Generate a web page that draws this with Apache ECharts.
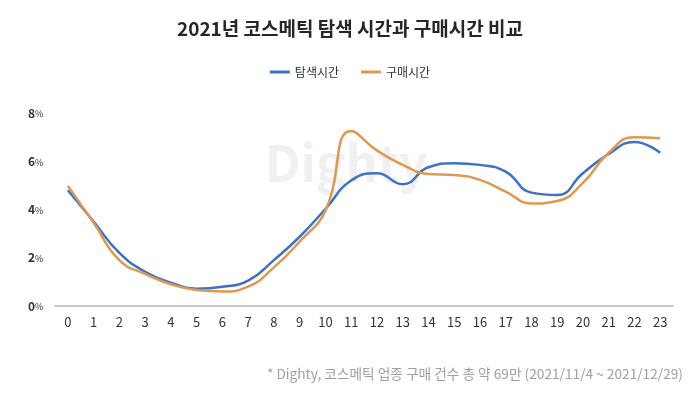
<!DOCTYPE html>
<html><head><meta charset="utf-8">
<script src="https://cdn.jsdelivr.net/npm/echarts@6/dist/echarts.min.js"></script>
<style>html,body{margin:0;padding:0;background:#fff}#c{width:700px;height:395px}</style>
</head><body><div id="c"></div>
<script>
const hours = ['0','1','2','3','4','5','6','7','8','9','10','11','12','13','14','15','16','17','18','19','20','21','22','23'];
const searchTime = [4.8,3.5,2.2,1.42,0.97,0.72,0.8,1.05,1.9,2.87,4.02,5.2,5.5,5.05,5.75,5.92,5.85,5.57,4.7,4.6,5.5,6.3,6.8,6.35];
const buyTime = [4.98,3.45,1.9,1.33,0.9,0.66,0.6,0.8,1.6,2.67,3.95,7.25,6.45,5.85,5.47,5.43,5.23,4.74,4.25,4.35,5.1,6.35,7.0,6.95];
const yTicks = [0,2,4,6,8];
const FONT = '"Noto Sans CJK KR", "Noto Sans", sans-serif';
const chart = echarts.init(document.getElementById('c'));
chart.setOption({
  backgroundColor:'#fff',
  animation:false,
  textStyle:{fontFamily:FONT},
  title:{text:'2021년 코스메틱 탐색 시간과 구매시간 비교',left:'center',top:14,
    textStyle:{fontFamily:FONT,fontSize:19,fontWeight:'bold',color:'#262626'}},
  legend:{top:61,left:'center',itemGap:22,itemWidth:20,itemHeight:3,icon:'rect',
    textStyle:{fontFamily:FONT,fontSize:12,color:'#333'},
    data:['탐색시간','구매시간']},
  grid:{left:55,right:27,top:113,bottom:89},
  xAxis:{type:'category',data:hours,boundaryGap:true,
    axisLine:{lineStyle:{color:'#c8c8c8',width:2}},axisTick:{show:false},
    axisLabel:{color:'#333',fontSize:13,margin:10,fontFamily:FONT}},
  yAxis:{type:'value',min:yTicks[0],max:yTicks[yTicks.length-1],interval:2,
    splitLine:{show:false},axisLine:{show:false},axisTick:{show:false},
    axisLabel:{align:'left',margin:27,
      formatter:v=>'{a|'+v+'}{b|%}',
      rich:{a:{fontSize:12,fontWeight:'bold',color:'#333',fontFamily:FONT},b:{fontSize:9,color:'#333',fontFamily:FONT,padding:[2,0,0,0]}}}},
  graphic:[
    {type:'text',left:265,top:138,z:-1,silent:true,
      style:{text:'Dighty',fontSize:50,fontWeight:'bold',fill:'#f0f0f0',fontFamily:FONT}},
    {type:'text',right:17,top:367,
      style:{text:'* Dighty, 코스메틱 업종 구매 건수 총 약 69만 (2021/11/4 ~ 2021/12/29)',fontSize:13.7,fill:'#a0a0a0',fontFamily:FONT}}
  ],
  series:[
    {name:'탐색시간',type:'line',data:searchTime,smooth:0.5,showSymbol:false,
      lineStyle:{width:2.5,color:'#3b72c6'},itemStyle:{color:'#3b72c6'}},
    {name:'구매시간',type:'line',data:buyTime,smooth:0.5,showSymbol:false,
      lineStyle:{width:2.5,color:'#e0984f'},itemStyle:{color:'#e0984f'}}
  ]
});
</script></body></html>
